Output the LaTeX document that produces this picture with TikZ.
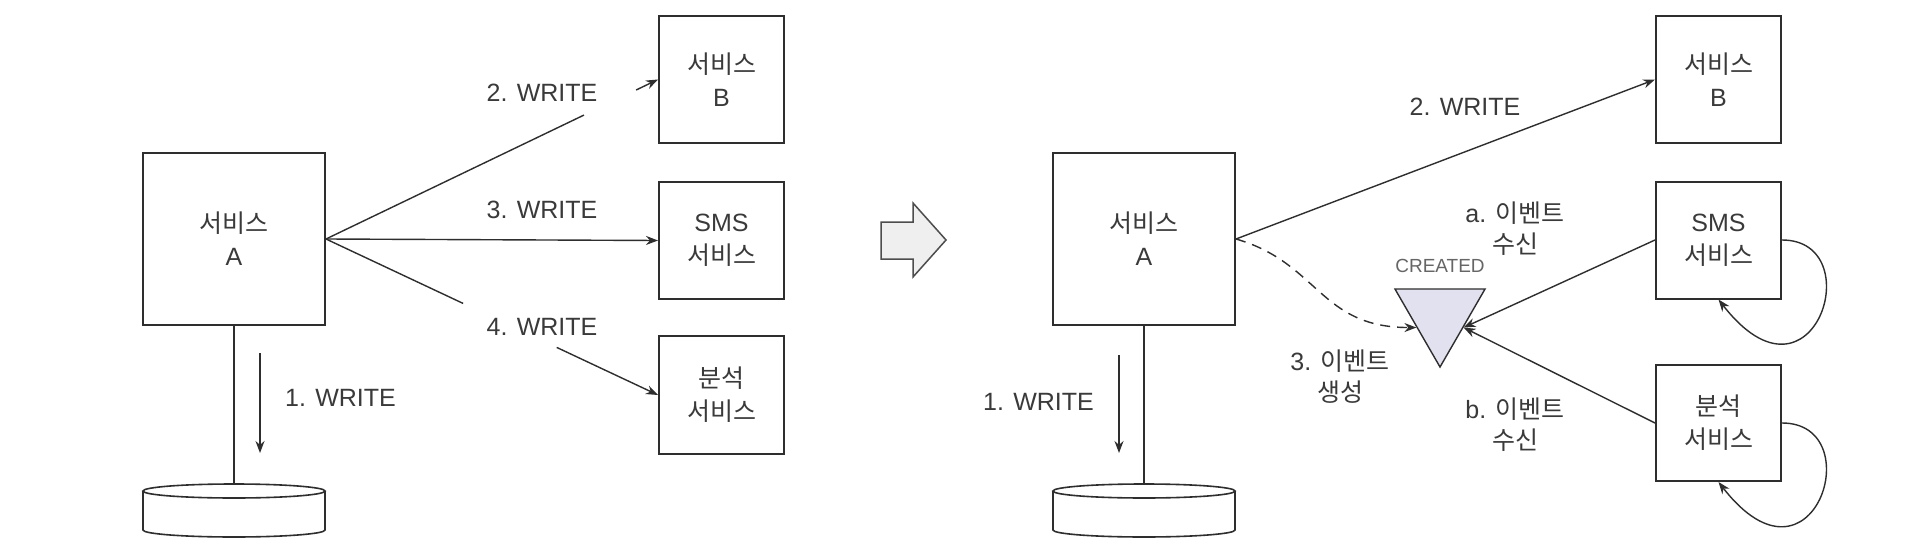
\documentclass[tikz,border=0pt]{standalone}
\usepackage{fontspec}
\setmainfont{Liberation Sans}
\newfontfamily\krfont{Noto Sans CJK KR}
\newcommand{\K}[1]{{\krfont #1}}
\usetikzlibrary{arrows.meta,calc,shapes.geometric}
\definecolor{ink}{HTML}{2E2E2E}
\definecolor{txt}{HTML}{3A3A3A}
\definecolor{trifill}{HTML}{E1E1F0}
\definecolor{arrowfill}{HTML}{EFEFEF}
\tikzset{
  svc/.style={draw=ink, line width=2pt, rectangle, inner sep=0pt, minimum width=125pt,
    align=center, text=txt, font=\fontsize{25}{33}\selectfont},
  bigsvc/.style={svc, minimum width=182pt, minimum height=172pt},
  lbl/.style={text=txt, align=center, inner sep=0pt, font=\fontsize{25}{31}\selectfont},
  conn/.style={draw=ink, line width=1.4pt},
  arr/.style={conn, -{Stealth[length=12pt,width=9pt]}},
}
\begin{document}
\begin{tikzpicture}[x=1pt,y=-1pt]
\useasboundingbox (0,0) rectangle (1906,551);
\fill[white] (0,0) rectangle (1906,551);

% ---------------- left ----------------
\node[bigsvc] (A1) at (234,239) {\K{서비스}\\A};
\node[svc, minimum height=127pt] (B1) at (721.5,79.5) {\K{서비스}\\B};
\node[svc, minimum height=117pt] (S1) at (721.5,240.5) {SMS\\\K{서비스}};
\node[svc, minimum height=118pt] (N1) at (721.5,395) {\K{분석}\\\K{서비스}};

% database
\coordinate (D1top) at (234,484);
\draw[ink, line width=1.6pt, fill=white] (143,491) -- (143,530)
  arc[start angle=180, end angle=0, x radius=91, y radius=7] -- (325,491);
\draw[ink, line width=1.6pt] (234,491) ellipse [x radius=91, y radius=7];
\draw[conn] (A1.south) -- (D1top);

\coordinate (w1a) at (260,353);
\coordinate (w1b) at (260,453);
\draw[arr] (w1a) -- (w1b);
\node[lbl, anchor=west] (l1) at (285,398) {1. WRITE};

% fan
\coordinate (g2a) at ($(A1.east)!0.777!(B1.west)$);
\coordinate (g2b) at ($(A1.east)!0.934!(B1.west)$);
\draw[conn] (A1.east) -- (g2a);
\draw[arr] (g2b) -- (B1.west);
\draw[arr] (A1.east) -- (S1.west);
\coordinate (g4a) at ($(A1.east)!0.413!(N1.west)$);
\coordinate (g4b) at ($(A1.east)!0.695!(N1.west)$);
\draw[conn] (A1.east) -- (g4a);
\draw[arr] (g4b) -- (N1.west);

\node[lbl] (l2) at (542,93) {2. WRITE};
\node[lbl] (l3) at (542,210) {3. WRITE};
\node[lbl] (l4) at (542,327) {4. WRITE};

% ---------------- big arrow ----------------
\draw[draw=ink!85, line width=1.5pt, fill=arrowfill, line join=miter]
  (881,222) -- (913,222) -- (913,203) -- (946,240) -- (913,277) -- (913,259) -- (881,259) -- cycle;

% ---------------- right ----------------
\node[bigsvc] (A2) at (1144,239) {\K{서비스}\\A};
\node[svc, minimum height=127pt] (B2) at (1718.5,79.5) {\K{서비스}\\B};
\node[svc, minimum height=117pt] (S2) at (1718.5,240) {SMS\\\K{서비스}};
\node[svc, minimum height=116pt] (N2) at (1718.5,423) {\K{분석}\\\K{서비스}};

\coordinate (D2top) at (1144,484);
\draw[ink, line width=1.6pt, fill=white] (1053,491) -- (1053,530)
  arc[start angle=180, end angle=0, x radius=91, y radius=7] -- (1235,491);
\draw[ink, line width=1.6pt] (1144,491) ellipse [x radius=91, y radius=7];
\draw[conn] (A2.south) -- (D2top);

\coordinate (w2a) at (1119,355);
\coordinate (w2b) at (1119,453);
\draw[arr] (w2a) -- (w2b);
\node[lbl, anchor=east] (r1) at (1094,402) {1. WRITE};

% topic triangle
\node[draw=ink, line width=1.4pt, fill=trifill, regular polygon, regular polygon sides=3,
  shape border rotate=180, minimum size=104pt, inner sep=0pt] (tri) at (1440,315) {};
\node[text=black!60, inner sep=0pt, font=\fontsize{19}{22}\selectfont] (created) at (1440,266) {CREATED};

\draw[arr] (A2.east) -- (B2.west);
\draw[arr, dash pattern=on 10pt off 7pt] (A2.east) .. controls +(83,24) and +(-97,0) .. (tri.208);
\draw[arr] (S2.west) -- (tri.332);
\draw[arr] (N2.west) -- (tri.332);

% self loops
\draw[arr] (S2.east) .. controls +(89,0) and +(95,122) .. (S2.south);
\draw[arr] (N2.east) .. controls +(89,0) and +(95,122) .. (N2.south);

\node[lbl] (r2) at (1465,107) {2. WRITE};
\node[lbl] (ra) at (1515,229) {a. \K{이벤트}\\\K{수신}};
\node[lbl] (rb) at (1515,425) {b. \K{이벤트}\\\K{수신}};
\node[lbl] (r3) at (1340,377) {3. \K{이벤트}\\\K{생성}};
\end{tikzpicture}
\end{document}
